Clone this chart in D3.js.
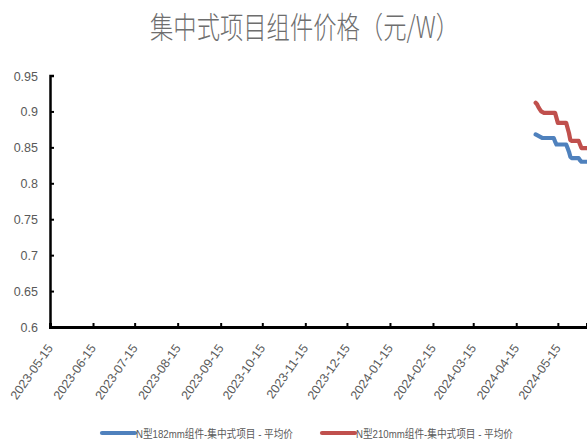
<!DOCTYPE html>
<html>
<head>
<meta charset="utf-8">
<script src="https://cdn.jsdelivr.net/npm/d3@7"></script>
<style>
  html, body { margin: 0; padding: 0; background: #fff; }
  svg { display: block; }
  .lbl { font-family: "Liberation Sans Narrow", "Liberation Sans", "Noto Sans CJK SC", sans-serif; fill: #595959; }
</style>
</head>
<body>
<svg id="chart" width="587" height="441"></svg>
<script>
// Daily price observations (元/W)
const dates = [
  "2024-04-29","2024-04-30","2024-05-01","2024-05-02","2024-05-03","2024-05-04","2024-05-05",
  "2024-05-06","2024-05-07","2024-05-08","2024-05-09","2024-05-10","2024-05-11","2024-05-12",
  "2024-05-13","2024-05-14","2024-05-15","2024-05-16","2024-05-17","2024-05-18","2024-05-19",
  "2024-05-20","2024-05-21","2024-05-22","2024-05-23","2024-05-24","2024-05-25","2024-05-26",
  "2024-05-27","2024-05-28","2024-05-29","2024-05-30","2024-05-31","2024-06-01","2024-06-02",
  "2024-06-03","2024-06-04","2024-06-05"
];
const n182 = [
  0.868,0.867,0.866,0.865,0.864,0.863,0.863,
  0.863,0.863,0.863,0.863,0.863,0.863,0.863,
  0.858,0.854,0.854,0.854,0.854,0.854,0.854,
  0.854,0.854,0.849,0.844,0.837,0.835,0.835,
  0.835,0.835,0.835,0.835,0.832,0.830,0.830,
  0.830,0.830,0.830
];
const n210 = [
  0.912,0.910,0.906,0.903,0.900,0.899,0.898,
  0.898,0.898,0.898,0.898,0.898,0.898,0.898,
  0.898,0.891,0.884,0.884,0.884,0.884,0.884,
  0.884,0.884,0.877,0.870,0.860,0.859,0.859,
  0.859,0.859,0.859,0.859,0.854,0.849,0.849,
  0.849,0.849,0.849
];
const seriesNames = ["N型182mm组件-集中式项目 - 平均价", "N型210mm组件-集中式项目 - 平均价"];
const seriesColors = ["#4F81BD", "#C0504D"];
const xTickLabels = [
  "2023-05-15","2023-06-15","2023-07-15","2023-08-15","2023-09-15","2023-10-15","2023-11-15",
  "2023-12-15","2024-01-15","2024-02-15","2024-03-15","2024-04-15","2024-05-15"
];
const yTicks = [0.6, 0.65, 0.7, 0.75, 0.8, 0.85, 0.9, 0.95];
const titleText = "集中式项目组件价格（元/W）";

const parse = d3.timeParse("%Y-%m-%d");
const svg = d3.select("#chart");

const plotLeft = 50, plotRight = 587, plotTop = 75.5, plotBottom = 327;
const x = d3.scaleTime()
  .domain([parse("2023-05-15"), parse("2024-06-05")])
  .range([plotLeft, plotRight]);
const y = d3.scaleLinear().domain([0.6, 0.95]).range([plotBottom, plotTop]);

// Title: tall, condensed lettering
svg.append("text")
  .attr("x", 150).attr("y", 38)
  .attr("font-family", "'Noto Sans CJK SC', sans-serif")
  .attr("font-size", 30)
  .attr("font-weight", 300)
  .attr("textLength", 309)
  .attr("lengthAdjust", "spacingAndGlyphs")
  .attr("fill", "#6e6e6e")
  .text(titleText);

// Series lines
const lineGen = d3.line()
  .x((d, i) => x(parse(dates[i])))
  .y(d => y(d));
svg.append("clipPath").attr("id", "plotClip")
  .append("rect").attr("x", plotLeft).attr("y", 0)
  .attr("width", plotRight - plotLeft).attr("height", plotBottom);
[n182, n210].forEach((vals, k) => {
  svg.append("path")
    .datum(vals)
    .attr("d", lineGen)
    .attr("fill", "none")
    .attr("stroke", seriesColors[k])
    .attr("stroke-width", 4.2)
    .attr("stroke-linejoin", "round")
    .attr("stroke-linecap", "round")
    .attr("clip-path", "url(#plotClip)");
});

// Y axis
const yAxis = d3.axisLeft(y).tickValues(yTicks).tickSize(-4).tickPadding(12)
  .tickFormat(d => String(+d.toFixed(2)));
const gy = svg.append("g").attr("transform", `translate(${plotLeft},0)`).call(yAxis);
gy.select(".domain").attr("stroke", "#000").attr("stroke-width", 2.5);
gy.selectAll(".tick line").attr("stroke", "#000").attr("stroke-width", 2);
gy.selectAll(".tick text")
  .attr("class", "lbl")
  .attr("font-size", 12.5)
  .attr("dy", "0.36em");

// X axis
const xAxis = d3.axisBottom(x)
  .tickValues(xTickLabels.map(parse))
  .tickSize(-4)
  .tickFormat(d3.timeFormat("%Y-%m-%d"));
const gx = svg.append("g").attr("transform", `translate(0,${plotBottom})`).call(xAxis);
gx.select(".domain").attr("stroke", "#000").attr("stroke-width", 3);
gx.selectAll(".tick line").attr("stroke", "#000").attr("stroke-width", 2);
gx.selectAll(".tick text")
  .attr("class", "lbl")
  .attr("font-size", 12.5)
  .attr("text-anchor", "end")
  .attr("y", 0).attr("dy", 0)
  .attr("transform", "translate(3,21) rotate(-55)");

// Legend
const legend = svg.append("g");
const legendX = [102, 322];
seriesNames.forEach((name, k) => {
  const g = legend.append("g").attr("transform", `translate(${legendX[k]},433)`);
  g.append("line").attr("x1", 0).attr("x2", 33).attr("y1", 0).attr("y2", 0)
    .attr("stroke", seriesColors[k]).attr("stroke-width", 4.2).attr("stroke-linecap", "round");
  g.append("text").attr("x", 34).attr("y", 4.5)
    .attr("class", "lbl")
    .attr("font-size", 11)
    .attr("textLength", 157)
    .attr("lengthAdjust", "spacingAndGlyphs")
    .text(name);
});
</script>
</body>
</html>
